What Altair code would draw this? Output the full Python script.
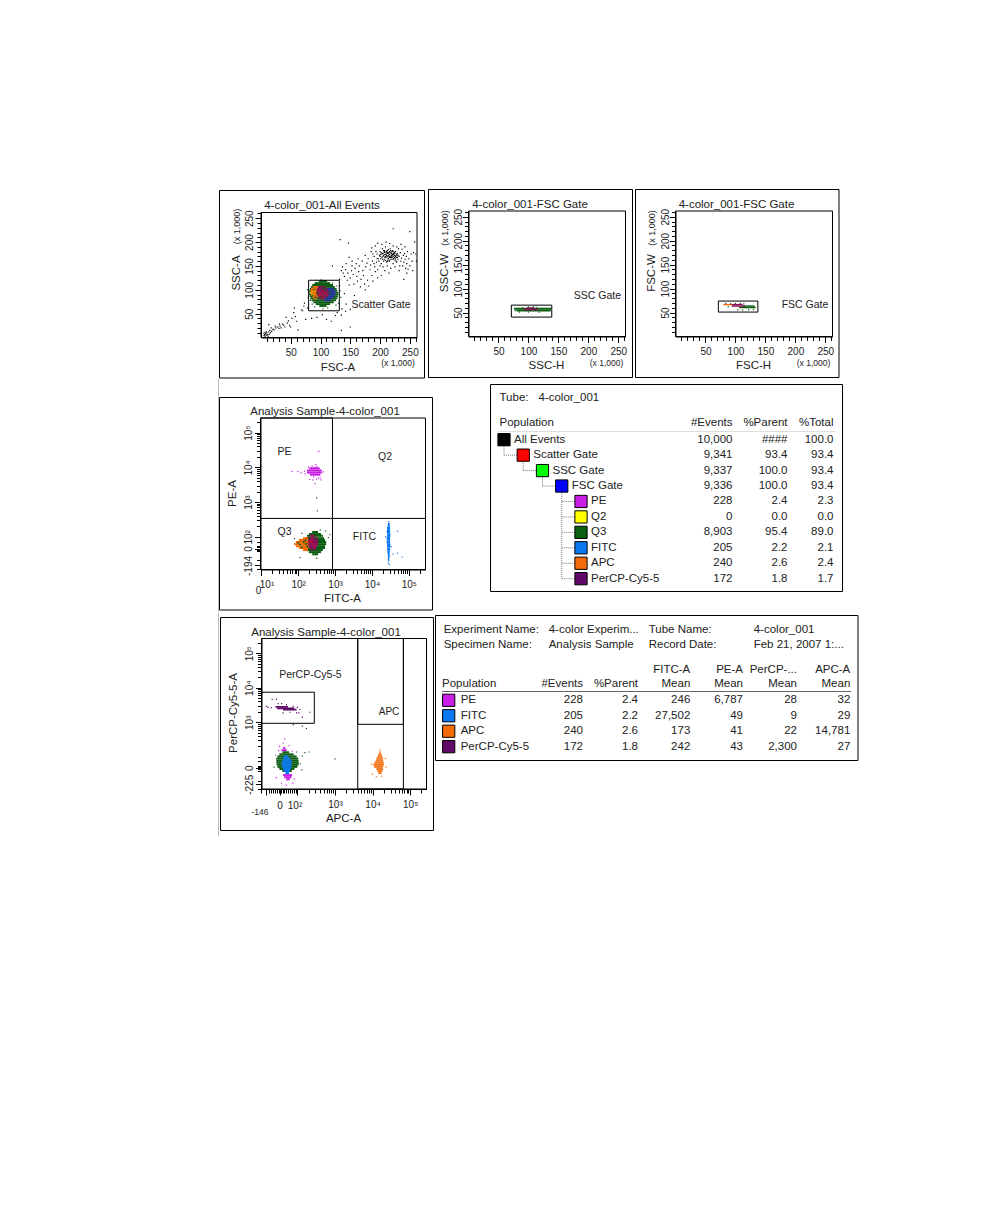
import numpy as np
import pandas as pd
import altair as alt

FONT = "Liberation Sans"
INK = "#222222"
C_PE, C_Q2, C_Q3, C_FITC, C_APC, C_PCP = "#c81ee6", "#ffff00", "#0b5d12", "#0a78f0", "#f46a08", "#5e0a66"
C_MIX = "#8a0f5a"

# ---------- scatter values: FSC-A / SSC-A (x 1,000) ----------
P1_EVENTS = [(5,4),(6,6),(7,3),(8,8),(9,5),(10,10),(11,6),(12,3),(7,11),(5,9),(13,12),(9,12),(14,7),(16,10),(15,15),(18,13),(20,17),(17,20),(13,27),(22,16),(25,20),(24,24),(28,22),(30,19),(32,24),(34,20),(36,28),(38,26),(40,22),(31,28),(44,30),(46,35),(48,25),(50,22),(52,40),(42,42),(55,52),(58,44),(60,34),(56,62),(70,56),(62,16),(72,66),(68,58),
 (78,62),(75,38),(85,40),(94,42),(110,38),(118,34),(103,48),(125,46),(135,47),(142,55),(128,52),(136,60),(150,59),(83,78),(73,72),(132,108),(140,92),(143,70),(135,15),(150,22),(120,150),(133,205),(147,198),(132,122),
 (135,140),(137,148),(138,135),(140,128),(142,142),(143,155),(145,120),(146,135),(148,110),(150,125),(152,140),(153,150),(155,132),(156,112),(158,145),(160,155),(161,128),(162,118),(164,138),(165,150),(167,106),(168,122),(170,160),(171,140),(172,130),(174,112),(175,100),(176,148),(178,156),(179,120),(180,165),(181,108),(183,142),(184,152),(186,130),(187,160),(188,118),(190,170),(191,148),(192,138),(194,158),(195,175),(196,125),(197,165),(148,168),(153,160),(157,88),(163,165),(175,172),(185,180),
 (198,160),(199,172),(200,180),(201,165),(202,155),(203,175),(204,186),(205,170),(206,160),(207,178),(208,168),(209,190),(210,174),(211,158),(212,182),(213,165),(214,172),(215,178),(216,160),(217,186),(218,170),(219,176),(220,164),(221,182),(222,155),(223,174),(224,168),(225,162),(226,180),(227,172),(228,158),(229,176),(230,164),(231,186),(232,170),(233,150),(234,178),(235,160),(236,166),(237,185),(238,150),(239,172),(240,158),(241,176),(242,164),(243,145),(244,170),(245,155),(246,180),(248,165),(250,150),(252,175),(254,160),(256,178),(247,143),(255,140),(258,200),(250,222),(222,228),(245,135),(240,122),(218,145),(212,150),(205,148),(200,150),(195,165),(193,180),(190,155),(188,175),(186,188),(192,192),(196,198),(203,195),(210,200),(216,197),(222,192),(228,190),(235,195),(242,190),(232,140),(225,148),(215,135),(208,140),(202,130),(196,142),(228,168),(212,176),(206,182),(218,164),(214,184),(209,170),(204,176),(220,172),(224,178),(200,170),(207,164),(216,174),(211,180),(226,170),(219,168),(213,160),(222,176),(260,175),(261,160),
 (201,174),(203,168),(205,176),(206,172),(207,182),(208,174),(209,162),(210,168),(211,172),(212,170),(213,178),(214,166),(215,170),(215,162),(216,180),(217,168),(218,178),(219,172),(220,168),(220,180),(221,174),(222,170),(223,166),(223,180),(224,172),(225,176),(226,166),(227,160),(228,174),(229,168),(230,172),(202,178),(204,164),(208,180),(212,160),(216,168),(218,182),(210,178),(214,176),(222,164)]
# dense populations, as rows: (y, x start, x end)
P1_GREEN = [(116,97,111),(112,90,116),(108,86,121),(104,84,124),(100,82,127),(96,81,128),(92,81,130),(88,81,130),(84,82,129),(80,83,128),(76,85,126),(72,88,122),(68,92,116),(64,98,110)]
P1_ORANGE = [(104,87,96),(100,84,98),(96,83,99),(92,83,99),(88,84,98),(84,86,96),(80,88,94)]
P1_MAGENTA = [(104,96,108),(100,94,112),(96,93,114),(92,93,114),(88,94,114),(84,96,112),(80,98,108)]
P1_BLUE = [(100,112,122),(96,114,124),(92,114,125),(88,114,125),(84,112,124),(80,108,120),(76,106,116)]
P1_SPECKS = [(93,120),(101,121),(108,118),(78,100),(79,84),(133,98),(134,84),(130,72),(126,68),(90,64),(104,60),(112,62),(86,70),(120,114),(127,108)]
P1_MOTTLE_GREEN = [(90,100),(95,92),(100,84),(108,100),(116,92),(122,86),(87,88),(104,104),(92,84),(118,98),(112,82)]
P1_MOTTLE_RED = [(100,92),(105,96),(98,88),(110,90),(103,86)]
P1_MOTTLE_YELLOW = [(86,96),(88,90),(91,98),(84,93)]

# ---------- SSC-H / SSC-W ----------
P2_GREEN = [(52,80,137),(56,76,138)]
P2_MIX = [(55,92,116),(58,97,110)]
P2_SPECKS = [(78,54),(84,59),(90,60),(100,62),(108,62),(114,61),(122,59),(132,58),(136,55),(85,51),(100,51),(118,51)]
# ---------- FSC-H / FSC-W ----------
P3_GREEN = [(59,106,134),(62,112,132)]
P3_ORANGE = [(65,80,94)]
P3_MIX = [(62,94,116),(65,94,112)]
P3_SPECKS = [(84,69),(92,68),(100,69),(108,69),(114,68),(104,56),(112,55),(122,56),(130,56),(118,60),(88,62)]

# ---------- FITC-A / PE-A, log10 of the values ----------
P4_GREEN = [(2.11,2.38,2.54),(2.05,2.29,2.62),(2.00,2.24,2.67),(1.93,2.19,2.70),(1.88,2.16,2.73),(1.82,2.13,2.76),(1.76,2.13,2.76),(1.70,2.13,2.73),(1.65,2.16,2.73),(1.59,2.21,2.67),(1.53,2.29,2.62),(1.47,2.38,2.54)]
P4_ORANGE = [(1.93,2.13,2.29),(1.88,2.02,2.32),(1.82,1.94,2.35),(1.76,1.89,2.35),(1.70,1.94,2.32),(1.65,2.02,2.29),(1.59,2.13,2.27)]
P4_MIX = [(2.00,2.32,2.46),(1.93,2.27,2.51),(1.88,2.27,2.54),(1.82,2.27,2.54),(1.76,2.27,2.54),(1.70,2.29,2.51),(1.65,2.29,2.49),(1.59,2.35,2.46)]
P4_MOTTLE_GREEN = [(2.05,1.78),(2.15,1.85),(2.25,1.72),(2.30,1.95),(2.10,1.70),(2.20,1.90),(2.40,1.62),(2.45,1.95),(2.30,1.65),(2.00,1.83),(2.22,1.80)]
P4_MOTTLE_RED = [(2.40,1.80),(2.35,1.85),(2.45,1.72),(2.38,1.92)]
P4_PE_BAND = [(3.94,2.30,2.58),(3.88,2.24,2.64),(3.82,2.24,2.64),(3.76,2.32,2.60)]
P4_PE_SPECKS = [(1.83,3.88),(1.99,3.88),(2.08,3.84),(2.17,3.89),(2.19,3.81),(2.28,4.01),(2.38,4.04),(2.48,4.08),(2.51,4.02),(2.42,3.72),(2.55,3.69),(2.62,3.64),(2.46,3.53),(2.68,3.87),(2.56,4.46),(2.31,3.65),(2.36,3.98),(2.44,4.00),(2.56,3.97),(2.60,3.70),(2.50,3.66),(2.40,3.64)]
P4_GREEN_SPECKS = [(2.50,3.12),(2.52,2.75),(2.74,2.17),(2.60,2.20),(2.82,1.98),(2.86,2.06),(2.10,2.10),(2.05,1.40),(2.50,1.38),(1.90,1.95)]
P4_FITC_BAND = [(2.30,4.43,4.48),(2.20,4.41,4.49),(2.10,4.40,4.49),(2.00,4.41,4.50),(1.90,4.40,4.49),(1.80,4.40,4.49),(1.70,4.41,4.50),(1.60,4.41,4.49),(1.50,4.42,4.48),(1.40,4.43,4.48),(1.30,4.43,4.47)]
P4_FITC_SPECKS = [(4.69,2.16),(4.57,1.51),(4.69,1.53),(4.82,1.42),(4.47,1.20),(4.45,2.44),(4.47,2.34),(4.44,1.25),(4.52,1.72),(4.37,2.00)]

# ---------- APC-A / PerCP-Cy5-5-A, log10 of the values ----------
P5_PCP_BAND = [(3.42,1.42,1.75),(3.38,1.46,1.92),(3.34,1.62,1.98)]
P5_PCP_SPECKS = [(1.18,3.46),(1.33,3.66),(1.44,3.67),(1.58,3.54),(1.71,3.51),(1.89,3.46),(1.98,3.27),(2.07,3.37),(2.13,3.15),(2.33,3.29),(2.13,2.89),(2.24,2.82),(1.89,2.93),(1.31,3.42),(1.22,3.43),(2.00,3.43),(2.04,3.27),(1.80,3.29),(1.49,3.54),(1.62,3.27)]
P5_GREEN = [(2.10,1.60,1.78),(2.04,1.52,1.90),(1.98,1.47,1.98),(1.92,1.44,2.02),(1.86,1.44,2.03),(1.80,1.44,2.04),(1.74,1.45,2.03),(1.68,1.47,2.00),(1.62,1.52,1.92),(1.56,1.60,1.85)]
P5_BLUE = [(1.98,1.64,1.76),(1.92,1.62,1.80),(1.86,1.60,1.84),(1.80,1.58,1.86),(1.74,1.58,1.84),(1.68,1.60,1.84),(1.62,1.62,1.82),(1.56,1.64,1.80),(1.50,1.68,1.78)]
P5_MAGENTA = [(2.22,1.62,1.68),(2.16,1.58,1.72),(1.44,1.62,1.86),(1.38,1.65,1.84),(1.32,1.70,1.80)]
P5_MAGENTA_SPECKS = [(1.52,2.30),(1.62,2.40),(1.50,2.18),(1.78,2.32),(1.86,2.16),(1.44,1.40),(1.92,1.36),(1.58,1.22),(1.70,1.18),(1.88,1.24),(1.66,2.52),(1.42,2.05)]
P5_GREEN_SPECKS = [(2.13,2.02),(2.20,2.12),(2.31,2.14),(3.00,1.94),(2.08,1.80),(2.12,1.62),(1.38,1.70),(1.98,2.14)]
P5_ORANGE = [(2.10,4.18,4.22),(2.04,4.15,4.24),(1.98,4.13,4.26),(1.92,4.10,4.28),(1.86,4.08,4.28),(1.80,4.05,4.30),(1.74,4.02,4.30),(1.68,4.04,4.28),(1.62,4.10,4.28),(1.56,4.13,4.26),(1.50,4.15,4.24)]
P5_ORANGE_SPECKS = [(3.98,1.78),(4.20,2.20),(4.24,1.44),(4.10,1.42),(4.36,1.70),(4.00,1.50),(4.34,1.95)]

# ---------- tables ----------
T1_NAMES = ["All Events","Scatter Gate","SSC Gate","FSC Gate","PE","Q2","Q3","FITC","APC","PerCP-Cy5-5"]
T1_LEVEL = [0,1,2,3,4,4,4,4,4,4]
T1_COLORS = ["#000000","#ff0000","#00ff00","#0000ff",C_PE,C_Q2,C_Q3,C_FITC,C_APC,C_PCP]
T1_EVENTS = ["10,000","9,341","9,337","9,336","228","0","8,903","205","240","172"]
T1_PARENT = ["####","93.4","100.0","100.0","2.4","0.0","95.4","2.2","2.6","1.8"]
T1_TOTAL = ["100.0","93.4","93.4","93.4","2.3","0.0","89.0","2.1","2.4","1.7"]
T2_NAMES = ["PE","FITC","APC","PerCP-Cy5-5"]
T2_COLORS = [C_PE,C_FITC,C_APC,C_PCP]
T2_EVENTS = ["228","205","240","172"]
T2_PARENT = ["2.4","2.2","2.6","1.8"]
T2_FITC = ["246","27,502","173","242"]
T2_PEA = ["6,787","49","41","43"]
T2_PCP = ["28","9","22","2,300"]
T2_APC = ["32","29","14,781","27"]


def text(x, y, s, size=11.5, angle=0, align="center", color=INK):
    return alt.Chart(pd.DataFrame({"t": [s]})).mark_text(
        font=FONT, fontSize=size, angle=angle, align=align, baseline="middle", color=color
    ).encode(x=alt.value(x), y=alt.value(y), text="t:N")


def box(x0, y0, x1, y1, color="black", width=1):
    return alt.Chart(pd.DataFrame({"a": [0]})).mark_rect(stroke=color, strokeWidth=width, fillOpacity=0).encode(
        x=alt.value(x0), x2=alt.value(x1), y=alt.value(y0), y2=alt.value(y1))


class Panel:
    def __init__(self, cell, frame, plot, dom_x, dom_y, log=False):
        self.cx, self.cy, cx1, cy1 = cell
        self.w, self.h = cx1 - self.cx, cy1 - self.cy
        self.frame = frame
        self.plot = plot
        self.log = log
        t = "log" if log else "linear"
        self.sx = alt.Scale(type=t, domain=dom_x, range=[plot[0] - self.cx, plot[2] - self.cx])
        self.sy = alt.Scale(type=t, domain=dom_y, range=[plot[3] - self.cy, plot[1] - self.cy])
        self.layers = []

    def X(self, p):
        return p - self.cx

    def Y(self, p):
        return p - self.cy

    def v(self, arr):
        a = np.array(arr, dtype=float)
        return 10 ** a if self.log else a

    def rows(self, rows, h, color, opacity=1.0):
        y, x0, x1 = zip(*rows)
        y = np.array(y, dtype=float)
        df = pd.DataFrame({"x": self.v(x0), "x2": self.v(x1), "y": self.v(y), "y2": self.v(y + h)})
        self.layers.append(alt.Chart(df).mark_rect(color=color, opacity=opacity).encode(
            x=alt.X("x:Q", scale=self.sx, axis=self.ax), x2="x2:Q",
            y=alt.Y("y:Q", scale=self.sy, axis=self.ay), y2="y2:Q"))

    def pts(self, pts, color, size=1.4):
        x, y = zip(*pts)
        df = pd.DataFrame({"x": self.v(x), "y": self.v(y)})
        self.layers.append(alt.Chart(df).mark_square(size=size, color=color, opacity=1).encode(
            x=alt.X("x:Q", scale=self.sx, axis=self.ax), y=alt.Y("y:Q", scale=self.sy, axis=self.ay)))

    def gate(self, x0, x1, y0, y1):
        df = pd.DataFrame({"x": self.v([x0]), "x2": self.v([x1]), "y": self.v([y0]), "y2": self.v([y1])})
        self.layers.append(alt.Chart(df).mark_rect(fillOpacity=0, stroke="black", strokeWidth=1).encode(
            x=alt.X("x:Q", scale=self.sx, axis=self.ax), x2="x2:Q",
            y=alt.Y("y:Q", scale=self.sy, axis=self.ay), y2="y2:Q"))

    def t(self, x, y, s, **kw):
        self.layers.append(text(self.X(x), self.Y(y), s, **kw))

    def axes(self, xticks, yticks, xmajor, ymajor, xlabel, ylabel, ypad=1):
        b = self.h - self.Y(self.plot[3])
        l = self.X(self.plot[0])
        self.ax = alt.Axis(values=xticks, title=None, grid=False, offset=-b, orient="bottom",
                           tickSize={"condition": {"test": xmajor, "value": 6}, "value": 4},
                           tickColor="black", domainColor="black", labelFont=FONT, labelFontSize=10,
                           labelColor=INK, labelPadding=4, labelExpr=xlabel, labelOverlap=False, labelFlush=False)
        self.ay = alt.Axis(values=yticks, title=None, grid=False, offset=-l, orient="left",
                           tickSize={"condition": {"test": ymajor, "value": 6}, "value": 4},
                           tickColor="black", domainColor="black", labelFont=FONT, labelFontSize=10,
                           labelColor=INK, labelPadding=ypad, labelExpr=ylabel, labelOverlap=False, labelFlush=False,
                           labelAngle=270, labelAlign="center", labelBaseline="bottom")

    def done(self):
        f = self.frame
        p = self.plot
        base = [box(self.X(f[0]), self.Y(f[1]), self.X(f[2]), self.Y(f[3]))]
        top = [box(self.X(p[0]), self.Y(p[1]), self.X(p[2]), self.Y(p[3]))]
        return alt.layer(*base, *self.layers, *top).properties(width=self.w, height=self.h)


LIN_TICKS = list(range(10, 270, 10))
LIN_MAJOR = "datum.value % 50 === 0"
LIN_LABEL = "datum.value % 50 === 0 ? '' + datum.value : ''"


def linear_panel(cell, frame, plot, title_xy, title, xt_xy, xtitle, yt_x, yt_y, ytitle, unit_xy, unit_y, gate_lbl, gate_xy, ypad):
    p = Panel(cell, frame, plot, [0, 262], [0, 262])
    p.axes(LIN_TICKS, LIN_TICKS, LIN_MAJOR, LIN_MAJOR, LIN_LABEL, LIN_LABEL, ypad=ypad)
    p.t(*title_xy, title, size=11.5)
    p.t(*xt_xy, xtitle, size=11.5)
    p.t(yt_x, yt_y, ytitle, size=11.5, angle=270)
    p.t(*unit_xy, "(x 1,000)", size=8.5)
    p.t(yt_x, unit_y, "(x 1,000)", size=9, angle=270)
    p.t(*gate_xy, gate_lbl, size=10.5)
    return p


# ----- top row -----
p1 = linear_panel((217, 189, 428, 379), (219.5, 190.5, 424.5, 378), (261, 212.5, 417, 337.5),
                  (322, 205.5), "4-color_001-All Events", (338, 367.5), "FSC-A", 236.5, 273, "SSC-A",
                  (398, 363), 226.5, "Scatter Gate", (381, 305), 1)
p1.pts(P1_EVENTS, "black", 1.4)
p1.rows(P1_GREEN, 4, C_Q3)
p1.rows(P1_ORANGE, 4, C_APC)
p1.rows(P1_MAGENTA, 4, C_MIX)
p1.rows(P1_BLUE, 4, "#2a2fb8")
p1.pts(P1_SPECKS, C_Q3)
p1.pts(P1_MOTTLE_GREEN, C_Q3, 3)
p1.pts(P1_MOTTLE_RED, "#d0102a", 3)
p1.pts(P1_MOTTLE_YELLOW, "#f0b000", 3)
p1.gate(80, 131.5, 56, 120)

p2 = linear_panel((428, 189, 635, 379), (428.5, 189.5, 632.5, 377.5), (468.5, 211, 625.5, 336.5),
                  (530, 205), "4-color_001-FSC Gate", (546.5, 366), "SSC-H", 445, 273, "SSC-W",
                  (606.5, 363), 228, "SSC Gate", (597.5, 296), -1)
p2.rows(P2_GREEN, 4, C_Q3)
p2.rows(P2_MIX, 3, C_MIX)
p2.pts(P2_SPECKS, C_Q3)
p2.gate(71.5, 139, 40.5, 65.5)

p3 = linear_panel((635, 189, 842, 379), (635.5, 189.5, 839, 377.5), (675.5, 211, 832.5, 336.5),
                  (736.5, 205), "4-color_001-FSC Gate", (753.5, 366), "FSC-H", 651.5, 273, "FSC-W",
                  (813.5, 363), 228, "FSC Gate", (805, 305), -1)
p3.rows(P3_GREEN, 3, C_Q3)
p3.rows(P3_ORANGE, 3, C_APC)
p3.rows(P3_MIX, 3, C_MIX)
p3.pts(P3_SPECKS, C_Q3)
p3.gate(71.5, 137.5, 51, 74)

# ----- log axes -----
DEC = [k * 10 ** n for n in range(1, 5) for k in range(1, 10)] + [100000, 200000]
SUP = ("datum.value == 100 ? '10\u00b2' : datum.value == 1000 ? '10\u00b3' : "
       "datum.value == 10000 ? '10\u2074' : datum.value == 100000 ? '10\u2075' : ")
P4_YT = [t for t in DEC if t >= 100] + [12, 15, 21, 38, 42, 46, 50, 55, 71]
P4_YL = "datum.value == 46 ? '0' : datum.value == 15 ? '-194' : " + SUP + "''"
LOGM = "indexof([10,100,1000,10000,100000], datum.value) >= 0"

p4 = Panel((217, 379, 489, 612), (219.5, 397.5, 432.5, 610), (260.5, 418, 425.5, 569.5),
           [9.55, 281800], [11.5, 263000], log=True)
p4.axes(DEC, P4_YT, LOGM, "indexof([100,1000,10000,100000,46,15], datum.value) >= 0", SUP + "''", P4_YL)
p4.rows(P4_GREEN, 0.06, C_Q3)
p4.rows(P4_ORANGE, 0.06, C_APC)
p4.rows(P4_MIX, 0.06, C_MIX)
p4.pts(P4_GREEN_SPECKS, C_Q3)
p4.pts(P4_MOTTLE_GREEN, C_Q3, 3)
p4.pts(P4_MOTTLE_RED, "#d0102a", 3)
p4.rows(P4_PE_BAND, 0.06, C_PE)
p4.pts(P4_PE_SPECKS, C_PE)
p4.rows(P4_FITC_BAND, 0.1, C_FITC)
p4.pts(P4_FITC_SPECKS, C_FITC)
p4.gate(0.98, 2.93, 2.53, 5.42)
p4.gate(2.93, 5.45, 1.06, 2.53)
p4.t(325, 412, "Analysis Sample-4-color_001", size=11.5)
p4.t(342.5, 598.5, "FITC-A", size=11.5)
p4.t(232.5, 493.5, "PE-A", size=11.5, angle=270)
p4.t(284.5, 451.5, "PE", size=10.5)
p4.t(385, 457, "Q2", size=10.5)
p4.t(284.5, 532, "Q3", size=10.5)
p4.t(364.5, 536.5, "FITC", size=10.5)
p4.t(267, 585, "10\u00b9", size=10)
p4.t(258.5, 590.5, "0", size=10)
p4.layers.append(alt.Chart(pd.DataFrame({"x": [1.5]})).mark_rule(color="#bbbbbb").encode(
    x=alt.value(1.5), y=alt.value(0), y2=alt.value(233)))

P5_XT = [11, 15, 18, 20, 23, 26, 29, 32, 34, 37, 41, 45, 50, 56, 62, 70, 80, 90] + [k * 10 ** n for n in range(2, 5) for k in range(1, 10)] + [100000, 200000]
P5_YT = [t for t in DEC if t >= 100] + [12, 16, 20, 40, 44, 48, 52, 56, 75]
p5 = Panel((217, 612, 435, 832), (220.5, 616.5, 433.5, 829.5), (261.5, 637.5, 426.5, 788),
           [11.1, 272000], [11.7, 266000], log=True)
p5.axes(P5_XT, P5_YT, "indexof([15,34,100,1000,10000,100000], datum.value) >= 0",
        "indexof([48,16,1000,10000,100000], datum.value) >= 0",
        "datum.value == 1000 ? '10\u00b3' : datum.value == 10000 ? '10\u2074' : datum.value == 100000 ? '10\u2075' : ''",
        "datum.value == 48 ? '0' : datum.value == 16 ? '-225' : datum.value == 1000 ? '10\u00b3' : datum.value == 10000 ? '10\u2074' : datum.value == 100000 ? '10\u2075' : ''")
p5.rows(P5_MAGENTA, 0.06, C_PE)
p5.pts(P5_MAGENTA_SPECKS, C_PE)
p5.rows(P5_GREEN, 0.06, C_Q3)
p5.rows(P5_BLUE, 0.06, C_FITC)
p5.pts(P5_GREEN_SPECKS, C_Q3)
p5.rows(P5_PCP_BAND, 0.05, C_PCP)
p5.pts(P5_PCP_SPECKS, C_PCP)
p5.rows(P5_ORANGE, 0.06, C_APC, opacity=0.9)
p5.pts(P5_ORANGE_SPECKS, C_APC)
p5.gate(1.045, 2.45, 2.97, 3.87)
p5.gate(3.605, 4.82, 1.07, 5.425)
p5.gate(3.605, 4.82, 2.94, 5.425)
p5.t(326, 632, "Analysis Sample-4-color_001", size=11.5)
p5.t(343.5, 817.5, "APC-A", size=11.5)
p5.t(233.5, 712, "PerCP-Cy5-5-A", size=11.5, angle=270)
p5.t(310.5, 673.5, "PerCP-Cy5-5", size=10.5)
p5.t(389, 710.5, "APC", size=10)
p5.t(260, 810.5, "-146", size=8.5)
p5.t(280, 805, "0", size=10)
p5.t(295, 805, "10\u00b2", size=10)
p5.layers.append(alt.Chart(pd.DataFrame({"x": [1.5]})).mark_rule(color="#bbbbbb").encode(
    x=alt.value(1.5), y=alt.value(0), y2=alt.value(223)))

# ----- table 1 -----
TS = 11.5
cx, cy, W, H = 489, 379, 356, 233
lev = alt.Scale(domain=[0, 4], range=[504 - cx, 581 - cx])
rowy = alt.Scale(domain=[0, 9], range=[439.7 - cy, 578.7 - cy])
t1 = pd.DataFrame({"n": T1_NAMES, "lv": T1_LEVEL, "c": T1_COLORS, "e": T1_EVENTS, "p": T1_PARENT,
                   "t": T1_TOTAL, "r": list(range(10))})
Yr = alt.Y("r:Q", scale=rowy, axis=None)


def tcol(df, field, xp, y, align="right"):
    return alt.Chart(df).mark_text(font=FONT, fontSize=TS, align=align, baseline="middle", color=INK).encode(
        x=alt.value(xp), y=y, text=f"{field}:N")


vert = pd.DataFrame({"l": [0, 1, 2, 3], "r": [0, 1, 2, 3], "r2": [1, 2, 3, 9]})
horiz = pd.DataFrame({"r": [1, 2, 3, 4, 5, 6, 7, 8, 9], "l": [0, 1, 2, 3, 3, 3, 3, 3, 3], "l2": [1, 2, 3, 4, 4, 4, 4, 4, 4]})
t1_layers = [
    box(490.5 - cx, 384.5 - cy, 842.5 - cx, 591.5 - cy),
    text(499.5 - cx, 397.5 - cy, "Tube:", size=TS, align="left"),
    text(538.5 - cx, 397.5 - cy, "4-color_001", size=TS, align="left"),
    text(499.5 - cx, 422.5 - cy, "Population", size=TS, align="left"),
    text(732.5 - cx, 422.5 - cy, "#Events", size=TS, align="right"),
    text(787.5 - cx, 422.5 - cy, "%Parent", size=TS, align="right"),
    text(833.5 - cx, 422.5 - cy, "%Total", size=TS, align="right"),
    alt.Chart(pd.DataFrame({"a": [0]})).mark_rule(color="#dddddd").encode(
        x=alt.value(498 - cx), x2=alt.value(835 - cx), y=alt.value(431.5 - cy)),
    alt.Chart(vert).mark_rule(color="#777777", strokeDash=[1, 1]).encode(
        x=alt.X("l:Q", scale=lev, axis=None), y=Yr, y2="r2:Q"),
    alt.Chart(horiz).mark_rule(color="#777777", strokeDash=[1, 1]).encode(
        y=Yr, x=alt.X("l:Q", scale=lev, axis=None), x2="l2:Q"),
    alt.Chart(t1).mark_square(size=150, stroke="black", strokeWidth=1, opacity=1).encode(
        x=alt.X("lv:Q", scale=lev, axis=None), y=Yr, fill=alt.Fill("c:N", scale=None)),
    alt.Chart(t1).mark_text(font=FONT, fontSize=TS, align="left", baseline="middle", color=INK, dx=10).encode(
        x=alt.X("lv:Q", scale=lev, axis=None), y=Yr, text="n:N"),
    tcol(t1, "e", 732.5 - cx, Yr),
    tcol(t1, "p", 787.5 - cx, Yr),
    tcol(t1, "t", 833.5 - cx, Yr),
]
table1 = alt.layer(*t1_layers).properties(width=W, height=H)

# ----- table 2 -----
cx, cy, W, H = 435, 612, 425, 220
rowy2 = alt.Scale(domain=[0, 3], range=[699.3 - cy, 745.7 - cy])
t2 = pd.DataFrame({"n": T2_NAMES, "c": T2_COLORS, "e": T2_EVENTS, "p": T2_PARENT, "f": T2_FITC, "a": T2_PEA,
                   "q": T2_PCP, "b": T2_APC, "r": [0, 1, 2, 3]})
Yr2 = alt.Y("r:Q", scale=rowy2, axis=None)
t2_layers = [
    box(435.5 - cx, 614.5 - cy, 858 - cx, 759.5 - cy),
    alt.Chart(pd.DataFrame({"a": [0]})).mark_rule(color="#666666").encode(
        x=alt.value(442 - cx), x2=alt.value(851 - cx), y=alt.value(690.5 - cy)),
    alt.Chart(t2).mark_square(size=150, stroke="black", strokeWidth=1, opacity=1).encode(
        x=alt.value(448.7 - cx), y=Yr2, fill=alt.Fill("c:N", scale=None)),
    tcol(t2, "n", 460.7 - cx, Yr2, "left"),
    tcol(t2, "e", 583 - cx, Yr2),
    tcol(t2, "p", 638 - cx, Yr2),
    tcol(t2, "f", 690.3 - cx, Yr2),
    tcol(t2, "a", 743 - cx, Yr2),
    tcol(t2, "q", 797 - cx, Yr2),
    tcol(t2, "b", 850.3 - cx, Yr2),
]
for x, y, s in [(443.7, 628.7, "Experiment Name:"), (548.7, 628.7, "4-color Experim..."), (648.7, 628.7, "Tube Name:"),
                (753.7, 628.7, "4-color_001"), (443.7, 644, "Specimen Name:"), (548.7, 644, "Analysis Sample"),
                (648.7, 644, "Record Date:"), (753.7, 644, "Feb 21, 2007 1:..."), (442, 683.3, "Population")]:
    t2_layers.append(text(x - cx, y - cy, s, size=TS, align="left"))
for x, y, s in [(583, 683.3, "#Events"), (638, 683.3, "%Parent"), (690.3, 669.3, "FITC-A"), (690.3, 683.3, "Mean"),
                (743, 669.3, "PE-A"), (743, 683.3, "Mean"), (797, 669.3, "PerCP-..."), (797, 683.3, "Mean"),
                (850.3, 669.3, "APC-A"), (850.3, 683.3, "Mean")]:
    t2_layers.append(text(x - cx, y - cy, s, size=TS, align="right"))
table2 = alt.layer(*t2_layers).properties(width=W, height=H)

row1 = alt.hconcat(p1.done(), p2.done(), p3.done(), spacing=0, bounds="flush")
row2 = alt.hconcat(p4.done(), table1, spacing=0, bounds="flush")
row3 = alt.hconcat(p5.done(), table2, spacing=0, bounds="flush")
chart = alt.vconcat(row1, row2, row3, spacing=-1).properties(
    padding={"left": 209, "top": 181, "right": 0, "bottom": 0}, background="white"
).configure_view(stroke="transparent", strokeWidth=0)

chart.save("out.html", embed_options={"renderer": "svg", "actions": False})
